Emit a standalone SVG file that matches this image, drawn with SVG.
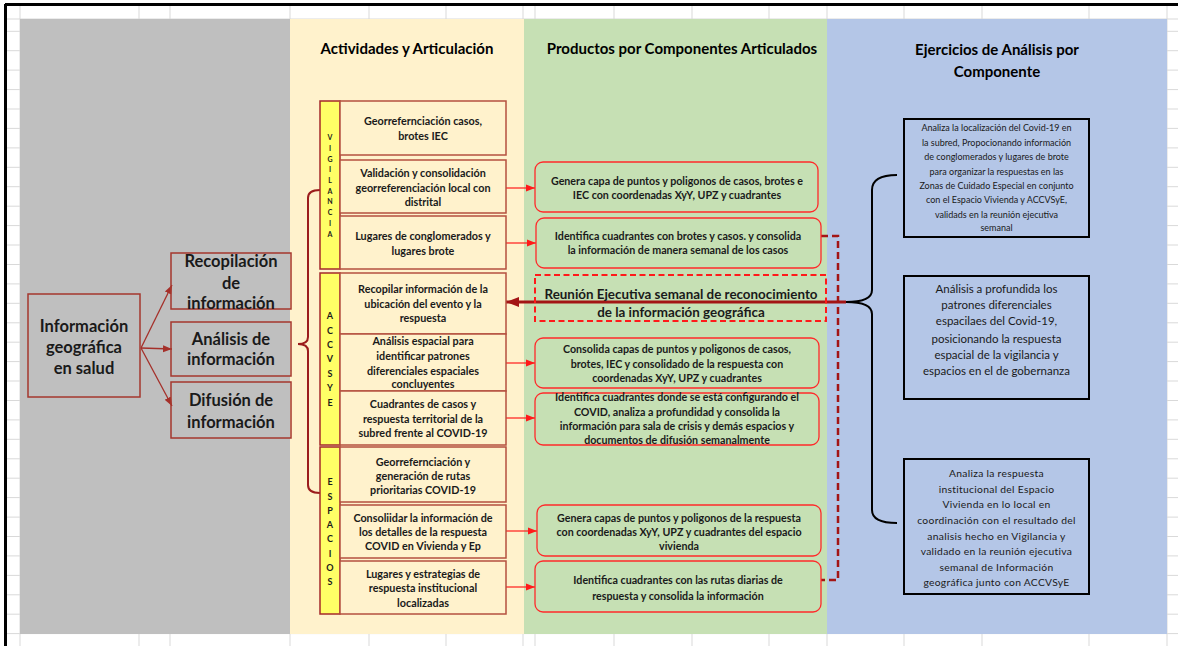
<svg xmlns="http://www.w3.org/2000/svg" width="1178" height="646" viewBox="0 0 1178 646">
<defs>
<style>
text{font-family:Lato,"Liberation Sans",sans-serif;fill:#1a1a1a;text-anchor:middle}
.hdr{font-size:15px;font-weight:bold;fill:#000}
.big{font-size:16.5px;font-weight:bold}
.act{font-size:10.8px;font-weight:bold}
.vb{font-size:7px;font-weight:bold}
.lb{font-size:9px;font-weight:bold}
.prd{font-size:10.7px;font-weight:bold}
.reu{font-size:13.4px;font-weight:bold}
.r1{font-size:9px}
.r2{font-size:11.5px}
.r3{font-size:10.3px;letter-spacing:0.3px}
.grid{stroke:#D9D9D9;stroke-width:1}
.lbox{fill:none;stroke:#A5372E;stroke-width:1.5}
.abox{fill:#FFF2CC;stroke:#B5503F;stroke-width:1.5}
.bar{fill:#FFFF66;stroke:#A52A2A;stroke-width:1.5}
.pbox{fill:#C6E0B4;stroke:#FF2A2A;stroke-width:1.3}
.rbox{fill:none;stroke:#000;stroke-width:2}
.la{stroke:#A5302A;stroke-width:1.3;fill:none}
.ra{stroke:#FF1A1A;stroke-width:1.2;fill:none}
</style>
<marker id="mL" markerUnits="userSpaceOnUse" markerWidth="10" markerHeight="10" refX="9" refY="5" orient="auto"><path d="M0,1.5 L9,5 L0,8.5 z" fill="#A5302A"/></marker>
<marker id="mR" markerUnits="userSpaceOnUse" markerWidth="10" markerHeight="10" refX="9" refY="5" orient="auto"><path d="M0,1.5 L9,5 L0,8.5 z" fill="#FF1A1A"/></marker>
<marker id="mD" markerUnits="userSpaceOnUse" markerWidth="14" markerHeight="12" refX="13" refY="6" orient="auto"><path d="M0,1 L13,6 L0,11 z" fill="#A31515"/></marker>
</defs>

<g id="background">
<rect x="0" y="0" width="1178" height="646" fill="#fff"/>
<g class="grid">
<path d="M20 4V646M139 4V646M170 4V646M290 4V646M369 4V646M446 4V646M523 4V646M535 4V646M614 4V646M692 4V646M769 4V646M827 4V646M904 4V646M982 4V646M1089 4V646M1167 4V646"/>
<path d="M5 19H1178M5 31.3H1178M5 50.7H1178M5 70.1H1178M5 89.6H1178M5 109H1178M5 128.4H1178M5 147.9H1178M5 167.3H1178M5 186.7H1178M5 206.2H1178M5 225.6H1178M5 245H1178M5 264.5H1178M5 283.9H1178M5 303.3H1178M5 322.8H1178M5 342.2H1178M5 361.6H1178M5 381H1178M5 400.5H1178M5 419.9H1178M5 439.3H1178M5 458.8H1178M5 478.2H1178M5 497.6H1178M5 517.1H1178M5 536.5H1178M5 555.9H1178M5 575.4H1178M5 594.8H1178M5 614.2H1178M5 633.6H1178"/>
</g>
<rect x="20" y="19" width="270" height="615" fill="#BFBFBF"/>
<rect x="290" y="19" width="234" height="615" fill="#FFF2CC"/>
<rect x="524" y="19" width="303" height="615" fill="#C6E0B4"/>
<rect x="827" y="19" width="340" height="615" fill="#B4C6E7"/>
<path d="M5 4.5H1178M5.5 4V646" stroke="#000" stroke-width="3" fill="none"/>
</g>

<g id="headers">
<text class="hdr" x="407" y="54">Actividades y Articulación</text>
<text class="hdr" x="682" y="54">Productos por Componentes Articulados</text>
<text class="hdr" x="997" y="55">Ejercicios de Análisis por</text>
<text class="hdr" x="997" y="77">Componente</text>
</g>

<g id="connectors">
<line class="la" x1="141" y1="348" x2="172" y2="285" marker-end="url(#mL)"/>
<line class="la" x1="141" y1="348" x2="172" y2="349" marker-end="url(#mL)"/>
<line class="la" x1="141" y1="348" x2="172" y2="406" marker-end="url(#mL)"/>
<path d="M320 190 Q308 190 308 198 V337 Q308 344 298 344 Q308 344 308 351 V485 Q308 493 320 493" fill="none" stroke="#9B1C1C" stroke-width="2"/>
<line class="ra" x1="506" y1="188" x2="535" y2="188" marker-end="url(#mR)"/>
<line class="ra" x1="506" y1="243" x2="536" y2="243" marker-end="url(#mR)"/>
<line class="ra" x1="506" y1="363" x2="535" y2="363" marker-end="url(#mR)"/>
<line class="ra" x1="506" y1="418" x2="535" y2="418" marker-end="url(#mR)"/>
<line class="ra" x1="506" y1="531" x2="537" y2="531" marker-end="url(#mR)"/>
<line class="ra" x1="506" y1="587" x2="535" y2="587" marker-end="url(#mR)"/>
<path d="M821 236 H838 V580 H821" fill="none" stroke="#A31515" stroke-width="2.5" stroke-dasharray="7 4"/>
<line x1="846" y1="302" x2="506" y2="302" stroke="#A31515" stroke-width="3" marker-end="url(#mD)"/>
<path d="M897 175 Q872 175 872 190 V290 Q872 302 846 302 Q872 302 872 314 V510 Q872 523 897 523" fill="none" stroke="#000" stroke-width="2"/>
</g>

<g id="n-info">
<rect class="lbox" x="28" y="294" width="112" height="103"/>
<text class="big" x="84" y="331.8">Información</text>
<text class="big" x="84" y="352.8">geográfica</text>
<text class="big" x="84" y="373.8">en salud</text>
</g>
<g id="n-recop">
<rect class="lbox" x="171" y="253" width="120" height="56"/>
<text class="big" x="231" y="266.8">Recopilación</text>
<text class="big" x="231" y="288.8">de</text>
<text class="big" x="231" y="308.8">información</text>
</g>
<g id="n-anal">
<rect class="lbox" x="171" y="322" width="120" height="54"/>
<text class="big" x="231" y="344.8">Análisis de</text>
<text class="big" x="231" y="364.8">información</text>
</g>
<g id="n-difu">
<rect class="lbox" x="171" y="382" width="120" height="56"/>
<text class="big" x="231" y="405.8">Difusión de</text>
<text class="big" x="231" y="427.8">información</text>
</g>

<g id="bar-vigilancia">
<rect class="bar" x="320" y="101" width="20" height="168"/>
<text class="vb" x="330" y="140.2">V</text><text class="vb" x="330" y="150.9">I</text><text class="vb" x="330" y="161.6">G</text><text class="vb" x="330" y="172.3">I</text><text class="vb" x="330" y="183">L</text><text class="vb" x="330" y="193.7">A</text><text class="vb" x="330" y="204.4">N</text><text class="vb" x="330" y="215.1">C</text><text class="vb" x="330" y="225.8">I</text><text class="vb" x="330" y="236.5">A</text>
</g>
<g id="bar-accvsye">
<rect class="bar" x="320" y="273" width="20" height="172"/>
<text class="lb" x="330" y="319.2">A</text><text class="lb" x="330" y="333.6">C</text><text class="lb" x="330" y="348">C</text><text class="lb" x="330" y="362.4">V</text><text class="lb" x="330" y="376.8">S</text><text class="lb" x="330" y="391.2">Y</text><text class="lb" x="330" y="405.6">E</text>
</g>
<g id="bar-espacios">
<rect class="bar" x="320" y="447" width="20" height="167"/>
<text class="lb" x="330" y="485.2">E</text><text class="lb" x="330" y="499.5">S</text><text class="lb" x="330" y="513.8">P</text><text class="lb" x="330" y="528.1">A</text><text class="lb" x="330" y="542.4">C</text><text class="lb" x="330" y="556.7">I</text><text class="lb" x="330" y="571">O</text><text class="lb" x="330" y="585.3">S</text>
</g>

<g id="a1"><rect class="abox" x="340" y="101" width="166" height="54"/>
<text class="act" x="423" y="124.8">Georrefernciación  casos,</text><text class="act" x="423" y="139.8">brotes  IEC</text></g>
<g id="a2"><rect class="abox" x="340" y="160" width="166" height="53"/>
<text class="act" x="423" y="176.8">Validación y consolidación</text><text class="act" x="423" y="191.8">georreferenciación  local con</text><text class="act" x="423" y="205.8">distrital</text></g>
<g id="a3"><rect class="abox" x="340" y="216" width="166" height="53"/>
<text class="act" x="423" y="239.8">Lugares de conglomerados  y</text><text class="act" x="423" y="254.8">lugares brote</text></g>
<g id="a4"><rect class="abox" x="340" y="273" width="166" height="61"/>
<text class="act" x="423" y="292.8">Recopilar información de la</text><text class="act" x="423" y="307.8">ubicación del evento y la</text><text class="act" x="423" y="321.8">respuesta</text></g>
<g id="a5"><rect class="abox" x="340" y="334" width="166" height="57"/>
<text class="act" x="423" y="344.8">Análisis espacial para</text><text class="act" x="423" y="359.8">identificar patrones</text><text class="act" x="423" y="374.8">diferenciales espaciales</text><text class="act" x="423" y="387.8">concluyentes</text></g>
<g id="a6"><rect class="abox" x="340" y="391" width="166" height="54"/>
<text class="act" x="423" y="407.8">Cuadrantes de casos y</text><text class="act" x="423" y="422.8">respuesta territorial de la</text><text class="act" x="423" y="436.8">subred frente al COVID-19</text></g>
<g id="a7"><rect class="abox" x="340" y="447" width="166" height="55"/>
<text class="act" x="423" y="465.8">Georrefernciación  y</text><text class="act" x="423" y="479.8">generación de rutas</text><text class="act" x="423" y="493.8">prioritarias  COVID-19</text></g>
<g id="a8"><rect class="abox" x="340" y="505" width="166" height="53"/>
<text class="act" x="423" y="521.8">Consoliidar  la información de</text><text class="act" x="423" y="535.8">los detalles de la respuesta</text><text class="act" x="423" y="549.8">COVID en Vivienda y Ep</text></g>
<g id="a9"><rect class="abox" x="340" y="561" width="166" height="53"/>
<text class="act" x="423" y="577.8">Lugares y estrategias de</text><text class="act" x="423" y="591.8">respuesta  institucional</text><text class="act" x="423" y="606.8">localizadas</text></g>

<g id="p1"><rect class="pbox" x="535" y="162" width="283" height="50" rx="8"/>
<text class="prd" x="677" y="185.4">Genera capa de puntos  y poligonos de casos, brotes  e</text><text class="prd" x="677" y="199.4">IEC con coordenadas  XyY, UPZ y cuadrantes</text></g>
<g id="p2"><rect class="pbox" x="536" y="218" width="285" height="50" rx="8"/>
<text class="prd" x="678" y="239.7">Identifica  cuadrantes  con brotes  y casos. y consolida</text><text class="prd" x="678" y="253.7">la información  de manera semanal de los casos</text></g>
<g id="reunion"><rect x="535" y="275" width="291" height="46" fill="none" stroke="#FF1A1A" stroke-width="2" stroke-dasharray="6 3.5"/>
<text class="reu" x="681" y="298.6">Reunión Ejecutiva semanal de reconocimiento</text><text class="reu" x="681" y="317.3">de la información geográfica</text></g>
<g id="p3"><rect class="pbox" x="535" y="338" width="284" height="50" rx="8"/>
<text class="prd" x="677" y="353">Consolida  capas de puntos  y poligonos  de casos,</text><text class="prd" x="677" y="368">brotes,  IEC  y consolidado  de la respuesta  con</text><text class="prd" x="677" y="382">coordenadas  XyY, UPZ y cuadrantes</text></g>
<g id="p4"><rect class="pbox" x="535" y="393" width="284" height="52" rx="8"/>
<text class="prd" x="677" y="401.4">Identifica  cuadrantes  donde se está configurando  el</text><text class="prd" x="677" y="416.4">COVID, analiza a profundidad  y consolida  la</text><text class="prd" x="677" y="430.4">información  para sala de crisis y demás espacios  y</text><text class="prd" x="677" y="443.7">documentos  de difusión  semanalmente</text></g>
<g id="p5"><rect class="pbox" x="537" y="505" width="284" height="51" rx="8"/>
<text class="prd" x="679" y="522">Genera capas de puntos  y poligonos  de la respuesta</text><text class="prd" x="679" y="536.4">con coordenadas  XyY, UPZ y cuadrantes  del espacio</text><text class="prd" x="679" y="550.4">vivienda</text></g>
<g id="p6"><rect class="pbox" x="535" y="561" width="286" height="51" rx="8"/>
<text class="prd" x="678" y="584.4">Identifica  cuadrantes  con las rutas diarias de</text><text class="prd" x="678" y="599.7">respuesta  y consolida  la información</text></g>

<g id="r1"><rect class="rbox" x="904" y="119" width="185" height="118"/>
<text class="r1" x="996.5" y="131.2">Analiza la localización del Covid-19 en</text><text class="r1" x="996.5" y="146.2">la subred, Propocionando información</text><text class="r1" x="996.5" y="160.2">de conglomerados y lugares de brote</text><text class="r1" x="996.5" y="175.2">para organizar la respuestas en las</text><text class="r1" x="996.5" y="189.2">Zonas de Cuidado Especial en conjunto</text><text class="r1" x="996.5" y="203.2">con el Espacio Vivienda y ACCVSyE,</text><text class="r1" x="996.5" y="218.2">validads  en la reunión ejecutiva</text><text class="r1" x="996.5" y="231.2">semanal</text></g>
<g id="r2"><rect class="rbox" x="904" y="276" width="185" height="123"/>
<text class="r2" x="996.5" y="293">Análisis a profundida los</text><text class="r2" x="996.5" y="309">patrones diferenciales</text><text class="r2" x="996.5" y="325">espacilaes del Covid-19,</text><text class="r2" x="996.5" y="343">posicionando la respuesta</text><text class="r2" x="996.5" y="359">espacial de la vigilancia y</text><text class="r2" x="996.5" y="375">espacios en el de gobernanza</text></g>
<g id="r3"><rect class="rbox" x="904" y="459" width="185" height="135"/>
<text class="r3" x="996.5" y="476.6">Analiza la respuesta</text><text class="r3" x="996.5" y="492.6">institucional del Espacio</text><text class="r3" x="996.5" y="507.6">Vivienda en lo local en</text><text class="r3" x="996.5" y="523.6">coordinación con el resultado del</text><text class="r3" x="996.5" y="539.6">analisis hecho en Vigilancia y</text><text class="r3" x="996.5" y="554.6">validado en la reunión ejecutiva</text><text class="r3" x="996.5" y="570.6">semanal de Información</text><text class="r3" x="996.5" y="585.6">geográfica junto con ACCVSyE</text></g>
</svg>
